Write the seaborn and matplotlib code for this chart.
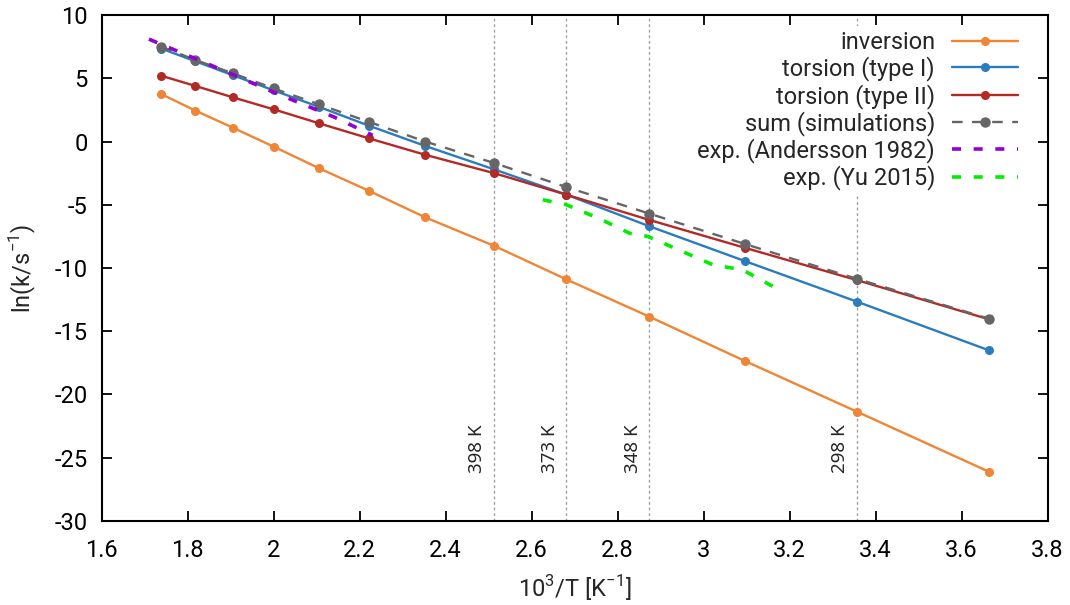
import matplotlib
matplotlib.use("Agg")
import matplotlib.pyplot as plt
import seaborn as sns
from matplotlib.ticker import FuncFormatter, MultipleLocator

# --------------------------------------------------
# data
# --------------------------------------------------
inv_T = [1.739, 1.818, 1.905, 2.000, 2.105, 2.222, 2.353,
         2.513, 2.681, 2.874, 3.096, 3.356, 3.663]

inversion = [3.75, 2.45, 1.1, -0.4, -2.1, -3.9, -6.0,
             -8.25, -10.9, -13.85, -17.35, -21.35, -26.1]
torsion_1 = [7.35, 6.35, 5.25, 4.05, 2.75, 1.25, -0.35,
             -2.2, -4.2, -6.7, -9.45, -12.65, -16.5]
torsion_2 = [5.2, 4.4, 3.5, 2.55, 1.45, 0.25, -1.05,
             -2.5, -4.2, -6.2, -8.4, -10.95, -14.05]
sum_sim = [7.5, 6.45, 5.4, 4.2, 2.95, 1.55, 0.0,
           -1.7, -3.6, -5.7, -8.1, -10.85, -14.0]

anders_x = [1.71, 1.85, 2.007, 2.14, 2.23]
anders_y = [8.1, 6.1, 3.8, 1.95, 0.5]

yu_x = [2.626, 2.681, 2.758, 2.828, 2.870, 2.921, 3.022, 3.091, 3.185]
yu_y = [-4.6, -5.0, -6.1, -7.25, -7.5, -8.25, -9.75, -10.15, -11.9]

ref_x = [2.513, 2.681, 2.874, 3.356]
ref_labels = ["398 K", "373 K", "348 K", "298 K"]

# --------------------------------------------------
# style
# --------------------------------------------------
sns.set_style("ticks")
plt.rcParams["font.family"] = ["Roboto", "DejaVu Sans"]
plt.rcParams["mathtext.fontset"] = "custom"
plt.rcParams["mathtext.rm"] = "Roboto"
plt.rcParams["axes.unicode_minus"] = False

FS = 17

fig = plt.figure(figsize=(10.7, 6.05), dpi=100)
ax = fig.add_axes([0.095, 0.139, 0.884, 0.836])

# reference temperatures
for x in ref_x:
    ax.axvline(x, color="#a0a0a0", lw=1.0, ls=(0, (2, 2)), zorder=0)
for x, lab in zip(ref_x, ref_labels):
    ax.text(x - 0.018, -26.2, lab, rotation=90, ha="right", va="bottom",
            fontsize=13.5, family="Noto Sans")

# --------------------------------------------------
# series
# --------------------------------------------------
sns.lineplot(x=inv_T, y=inversion, ax=ax, color="#f08535", lw=1.7,
             marker="o", markersize=6.5, markeredgewidth=0, label="inversion")
sns.lineplot(x=inv_T, y=torsion_1, ax=ax, color="#2b7bbf", lw=1.7,
             marker="o", markersize=6.5, markeredgewidth=0, label="torsion (type I)")
sns.lineplot(x=inv_T, y=torsion_2, ax=ax, color="#b32a24", lw=1.7,
             marker="o", markersize=6.5, markeredgewidth=0, label="torsion (type II)")
sns.lineplot(x=inv_T, y=sum_sim, ax=ax, color="#666666", lw=1.7,
             marker="o", markersize=7.5, markeredgewidth=0,
             dashes=False, linestyle=(0, (4.5, 4)), label="sum (simulations)")
sns.lineplot(x=anders_x, y=anders_y, ax=ax, color="#9400d3", lw=2.6,
             linestyle=(0, (2.5, 3.5)), label="exp. (Andersson 1982)")
sns.lineplot(x=yu_x, y=yu_y, ax=ax, color="#00ee00", lw=2.6,
             linestyle=(0, (2.5, 3.5)), label="exp. (Yu 2015)")

# --------------------------------------------------
# axes
# --------------------------------------------------
ax.set_xlim(1.6, 3.8)
ax.set_ylim(-30, 10)
ax.xaxis.set_major_locator(MultipleLocator(0.2))
ax.yaxis.set_major_locator(MultipleLocator(5))
ax.xaxis.set_major_formatter(FuncFormatter(lambda v, p: f"{v:g}"))
ax.yaxis.set_major_formatter(FuncFormatter(lambda v, p: f"{v:g}"))
ax.tick_params(direction="in", length=7, width=1.3, top=True, right=True,
               labelsize=FS, colors="black")
ax.tick_params(axis="x", pad=13)
ax.tick_params(axis="y", pad=10)
for s in ax.spines.values():
    s.set_linewidth(1.5)
    s.set_color("black")

ax.set_xlabel(r"10$^{3}$/T [K$^{-1}$]", fontsize=FS, labelpad=8)
ax.set_ylabel(r"ln(k/s$^{-1}$)", fontsize=FS, labelpad=12)

leg = ax.legend(loc="upper right", bbox_to_anchor=(0.981, 0.992),
                markerfirst=False, frameon=True, fontsize=FS,
                handlelength=2.8, labelspacing=0.1, borderpad=0.2,
                handletextpad=0.7, borderaxespad=0.3, numpoints=1)
leg.get_frame().set_facecolor("white")
leg.get_frame().set_edgecolor("none")
leg.get_frame().set_alpha(1.0)
for t in leg.get_texts():
    t.set_ha("right")
leg._legend_box.align = "right"

fig.savefig("out.png", dpi=100)
